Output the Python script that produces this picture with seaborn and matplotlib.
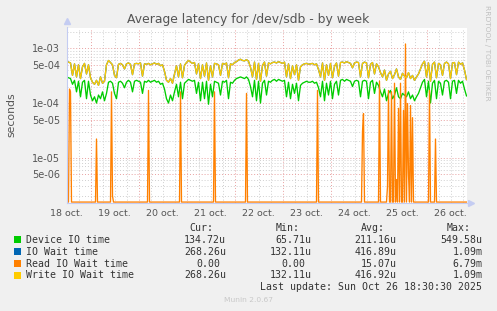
import numpy as np
import pandas as pd
import matplotlib
matplotlib.use("Agg")
import matplotlib.pyplot as plt
import seaborn as sns
from matplotlib.ticker import FixedLocator, FuncFormatter, NullFormatter
from matplotlib.patches import Rectangle

# ---------------- data ----------------
# x axis: hours since 18 oct 12:00 ; labels centred at noon of each day
day_labels = ["18 oct.", "19 oct.", "20 oct.", "21 oct.", "22 oct.",
              "23 oct.", "24 oct.", "25 oct.", "26 oct."]
day_label_hours = [0, 24, 48, 72, 96, 120, 144, 168, 192]

# hourly samples, units 1e-4 s
write_io_wait_e4 = [
    5.8, 5.6, 5.4, 3.2,
    5.2, 3.0, 5.0, 2.8, 4.6, 5.3, 3.4, 5.0, 2.9,
    2.4, 2.2, 2.6, 2.1, 3.0, 2.3, 2.5,
    5.0, 6.0, 5.5,
    5.0, 3.2, 2.9, 5.1, 5.3, 5.0, 4.2, 5.2, 5.4, 5.1, 3.3, 5.2,
    5.3, 5.2, 5.4, 3.1, 5.2, 5.1, 5.3, 5.0, 5.2, 5.4, 5.1, 5.3, 4.8, 5.0, 3.8,
    2.6, 2.4, 2.8, 2.3, 3.4,
    4.8, 3.0, 5.2, 2.9, 4.9, 5.5,
    6.0, 5.6, 5.3, 5.5, 3.4, 5.2,
    2.8, 5.0, 3.1, 5.4, 2.6, 4.8, 3.0, 5.3,
    5.2, 5.0, 3.2, 5.3, 5.1, 5.4, 2.9, 5.2, 5.0, 5.5,
    5.7, 6.1, 6.3, 6.0, 5.9, 6.2, 5.8, 4.5,
    3.0, 5.6, 2.7, 5.3, 2.5, 4.9, 5.6, 3.1, 5.4, 5.2,
    5.5, 5.6, 5.4, 5.7, 5.5, 5.3, 5.6,
    3.0, 5.2, 2.8, 4.8, 3.3, 5.0, 2.6, 4.6,
    5.0, 5.2, 5.3, 5.1, 5.2, 5.3, 5.0, 5.2, 4.1,
    3.0, 5.4, 2.6, 5.0, 3.2, 5.3, 2.9, 4.7, 5.4, 3.1,
    5.5, 5.6, 5.4, 5.7, 5.5, 5.3, 4.4, 5.4,
    5.6, 5.5, 3.0, 5.3, 5.6, 5.4, 2.9, 5.1, 5.5, 3.4, 5.2, 4.6,
    3.6, 3.0, 4.0, 2.6, 3.4, 3.8, 2.8, 3.3, 4.2, 3.0, 2.7, 3.5, 3.1, 2.9,
    3.6, 2.8, 3.2, 2.6, 3.0, 3.4, 4.2,
    5.2, 5.8, 3.0, 5.4, 2.5, 5.1, 5.6, 2.9, 5.3, 5.0, 3.2,
    5.3, 5.6, 5.2, 2.8, 5.4, 5.5, 3.3, 5.6, 5.1, 5.4, 4.0, 2.68,
]

device_io_e4 = [
    3.0, 2.9, 2.8, 2.2,
    2.6, 1.6, 2.5, 1.3, 2.4, 2.6, 1.2, 2.5, 1.4,
    1.1, 1.3, 1.0, 1.4, 1.2, 1.6, 1.1,
    1.5, 2.4, 2.5,
    2.3, 1.5, 1.2, 2.4, 2.5, 2.3, 1.9, 2.4, 2.6, 2.4, 1.6, 2.5,
    2.6, 2.5, 2.4, 1.5, 2.5, 2.4, 2.6, 2.4, 2.5, 2.6, 2.4, 2.5, 2.2, 2.3, 1.8,
    1.2, 1.0, 1.4, 1.1, 1.6,
    2.2, 1.3, 2.4, 1.2, 2.3, 2.5,
    2.7, 2.6, 2.5, 2.6, 1.5, 2.4,
    1.1, 2.4, 1.2, 2.5, 0.95, 2.2, 1.3, 2.5,
    2.4, 2.3, 1.4, 2.5, 2.4, 2.6, 1.2, 2.4, 2.3, 2.6,
    2.8, 2.9, 3.0, 2.9, 2.8, 3.0, 2.7, 2.0,
    1.3, 2.6, 1.1, 2.5, 1.0, 2.3, 2.6, 1.4, 2.5, 2.4,
    2.6, 2.7, 2.5, 2.7, 2.6, 2.5, 2.6,
    1.3, 2.4, 1.2, 2.2, 1.5, 2.3, 1.1, 2.1,
    2.3, 2.4, 2.5, 2.4, 2.4, 2.5, 2.3, 2.4, 1.9,
    1.3, 2.5, 1.1, 2.3, 1.4, 2.5, 1.2, 2.2, 2.5, 1.4,
    2.6, 2.7, 2.5, 2.7, 2.6, 2.5, 2.0, 2.5,
    2.6, 2.5, 1.3, 2.5, 2.6, 2.5, 1.2, 2.4, 2.6, 1.5, 2.4, 2.1,
    1.6, 1.3, 1.8, 1.1, 1.5, 1.7, 1.2, 1.4, 1.9, 1.3, 1.2, 1.5, 1.4, 1.3,
    1.6, 1.2, 1.4, 1.1, 1.3, 1.5, 1.9,
    2.4, 2.7, 1.3, 2.5, 1.0, 2.3, 2.6, 1.2, 2.5, 2.3, 1.4,
    2.5, 2.6, 2.4, 1.2, 2.5, 2.6, 1.5, 2.6, 2.3, 2.5, 1.8, 1.35,
]

# IO wait is identical to write IO wait (fully hidden under the yellow line)
io_wait_e4 = list(write_io_wait_e4)

# read IO wait: zero except these half-hour slots (slot * 0.5 h)
read_slot = [3, 4, 30, 45, 46, 82, 114, 148, 180, 251, 296, 297,
             313, 321, 322, 325, 328, 330, 332, 334, 337, 339, 341, 342,
             344, 346, 363, 369]
read_val = [1.8e-4, 1.6e-4, 2.2e-5, 1.6e-4, 2e-6, 1.7e-4, 1.6e-4, 1.6e-4,
            1.5e-4, 1.7e-4, 3e-5, 6.4e-5,
            2.5e-4, 3e-6, 1.7e-4, 1.6e-4, 2.3e-4, 4e-6, 8e-5, 2.3e-4, 7.3e-5,
            1.2e-3, 9.8e-5, 5e-6, 9e-5, 5.4e-5, 1.7e-4, 2.2e-5]
n_read_slots = 401

legend_names = ["Device IO time", "IO Wait time", "Read IO Wait time",
                "Write IO Wait time"]
legend_colors = ["#00CC00", "#0066B3", "#FF8000", "#FFCC00"]
cur_vals = ["134.72u", "268.26u", "0.00", "268.26u"]
min_vals = ["65.71u", "132.11u", "0.00", "132.11u"]
avg_vals = ["211.16u", "416.89u", "15.07u", "416.92u"]
max_vals = ["549.58u", "1.09m", "6.79m", "1.09m"]
last_update = "Last update: Sun Oct 26 18:30:30 2025"

# ---------------- build frames ----------------
hours = np.arange(len(write_io_wait_e4))
df = pd.DataFrame({
    "hour": hours,
    "device": np.array(device_io_e4) * 1e-4,
    "iowait": np.array(io_wait_e4) * 1e-4,
    "write": np.array(write_io_wait_e4) * 1e-4,
})
read_full = np.zeros(n_read_slots)
read_full[read_slot] = read_val
YMIN, YMAX = 1.49e-6, 2.4e-3
df_read = pd.DataFrame({"hour": np.arange(n_read_slots) * 0.5,
                        "read": np.clip(read_full, YMIN * 1.04, None)})

# ---------------- figure ----------------
W, H = 497, 311
fig = plt.figure(figsize=(W / 100, H / 100), dpi=100, facecolor="#F0F0F0")

def fx(px):
    return px / W

def fy(py):
    return 1 - py / H

L, R, T, B = 66.5, 466.5, 27.5, 203
ax = fig.add_axes([fx(L), fy(B), (R - L) / W, (B - T) / H])
ax.set_facecolor("white")

lw = 0.95
sns.lineplot(data=df, x="hour", y="device", color="#00CC00", linewidth=lw, ax=ax)
sns.lineplot(data=df, x="hour", y="iowait", color="#0066B3", linewidth=lw, ax=ax)
sns.lineplot(data=df_read, x="hour", y="read", color="#FF8000", linewidth=lw, ax=ax)
sns.lineplot(data=df, x="hour", y="write", color="#FFCC00", linewidth=lw, ax=ax)

ax.set_yscale("log")
ax.set_ylim(YMIN, YMAX)
ax.set_xlim(0, 200)

# x ticks: major = midnight (red grid), minor = every 6h (grey grid, labels at noon)
ax.xaxis.set_major_locator(FixedLocator(list(range(12, 201, 24))))
ax.xaxis.set_major_formatter(NullFormatter())
ax.xaxis.set_minor_locator(FixedLocator(list(range(0, 201, 6))))
lab_map = dict(zip(day_label_hours, day_labels))
ax.xaxis.set_minor_formatter(FuncFormatter(lambda v, p: lab_map.get(int(round(v)), "")))

# y ticks
major_y = [5e-6, 1e-5, 5e-5, 1e-4, 5e-4, 1e-3]
minor_y = [k * 10.0 ** e for e in (-6, -5, -4, -3) for k in (2, 3, 4, 6, 7, 8, 9)]
minor_y = [v for v in minor_y if YMIN < v < YMAX]
ax.yaxis.set_major_locator(FixedLocator(major_y))
ax.yaxis.set_major_formatter(FuncFormatter(lambda v, p: f"{v:.0e}"))
ax.yaxis.set_minor_locator(FixedLocator(minor_y))
ax.yaxis.set_minor_formatter(NullFormatter())

dots = (0, (1, 2))
ax.grid(which="major", axis="both", color="#E8A0A0", linestyle=dots, linewidth=0.7)
ax.grid(which="minor", axis="both", color="#CFCFCF", linestyle=dots, linewidth=0.7)
ax.set_axisbelow(True)

ax.tick_params(which="both", length=0, colors="#555555", labelsize=7)
ax.tick_params(axis="y", pad=4.5)
ax.tick_params(axis="x", which="minor", pad=4, labelsize=6.8)
ax.set_xlabel("")
ax.set_ylabel("")

for s in ["top", "right"]:
    ax.spines[s].set_visible(False)
for s in ["left", "bottom"]:
    ax.spines[s].set_color("#C4CCF2")
    ax.spines[s].set_linewidth(0.8)
ax.plot([0], [1.035], marker="^", color="#C4CCF2", markersize=4.5,
        transform=ax.transAxes, clip_on=False)
ax.plot([1.012], [0], marker=">", color="#C4CCF2", markersize=4.5,
        transform=ax.transAxes, clip_on=False)

# ---------------- texts ----------------
fig.text(fx(248), fy(19.3), "Average latency for /dev/sdb - by week",
         ha="center", va="center", fontsize=8.9, color="#555555")
fig.text(fx(11), fy(115), "seconds", rotation=90, ha="center", va="center",
         fontsize=7.8, color="#555555")
fig.text(fx(487), fy(5), "RRDTOOL / TOBI OETIKER", rotation=270, ha="center",
         va="top", fontsize=5.4, color="#C0C0C0")

mono = dict(family="DejaVu Sans Mono", fontsize=7.15, color="#333333", va="center")
fig.text(fx(213.5), fy(227.7), "Cur:", ha="right", **mono)
fig.text(fx(299.5), fy(227.7), "Min:", ha="right", **mono)
fig.text(fx(384.5), fy(227.7), "Avg:", ha="right", **mono)
fig.text(fx(470.2), fy(227.7), "Max:", ha="right", **mono)

row_y = [239.7, 251.7, 263.7, 275.4]
col_right = [226.0, 311.8, 396.8, 482.6]
cw = 5.96
for i, name in enumerate(legend_names):
    y = row_y[i]
    fig.patches.append(Rectangle((fx(14), fy(y + 3.2)), 6.5 / W, 6.5 / H,
                                 transform=fig.transFigure,
                                 facecolor=legend_colors[i], edgecolor="none"))
    fig.text(fx(26), fy(y), name, ha="left", **mono)
    for c, vals in enumerate([cur_vals, min_vals, avg_vals, max_vals]):
        v = vals[i]
        xr = col_right[c] if v[-1].isalpha() else col_right[c] - cw
        fig.text(fx(xr), fy(y), v, ha="right", **mono)

fig.text(fx(482.4), fy(287.3), last_update, ha="right", **mono)
fig.text(fx(248.5), fy(300.3), "Munin 2.0.67", ha="center", va="center",
         fontsize=5.4, color="#C8C8C8")

fig.savefig("out.png", dpi=100, facecolor=fig.get_facecolor())
